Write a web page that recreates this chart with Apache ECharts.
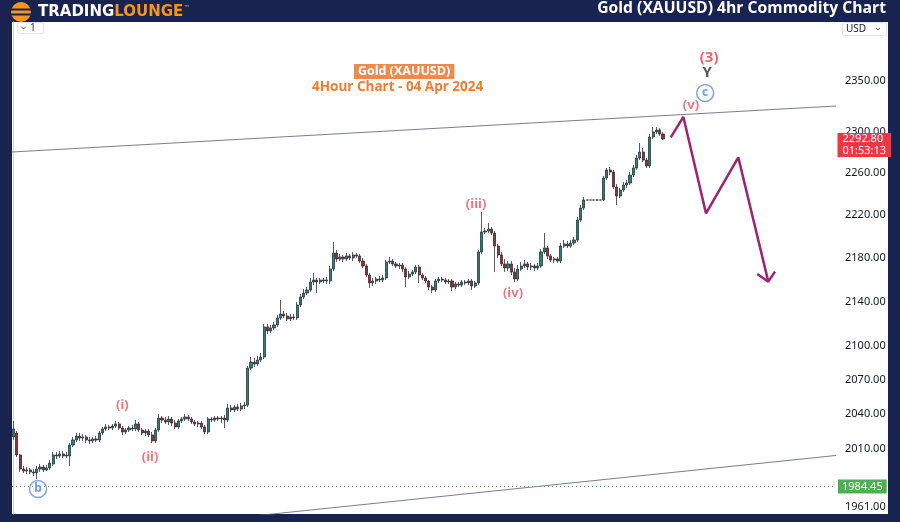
<!DOCTYPE html>
<html><head><meta charset="utf-8">
<script src="https://cdn.jsdelivr.net/npm/echarts@6/dist/echarts.min.js"></script>
<style>html,body{margin:0;padding:0;background:#18244f;}#c{width:900px;height:522px;}</style>
</head><body><div id="c"></div>
<script>
// ---- data (4h candles, prices in USD) ----
const openP = [
2020.4,2023.8,2005.0,1993.1,1991.4,1992.3,1990.6,1989.7,1993.1,1994.8,
1992.3,1994.0,1997.4,2005.0,2004.2,2005.9,2004.2,2004.2,2013.5,2017.8,
2021.2,2019.5,2020.4,2017.8,2017.0,2018.7,2017.8,2023.8,2027.3,2029.0,
2028.1,2029.8,2031.6,2028.1,2024.7,2026.4,2028.1,2027.3,2031.6,2026.4,
2023.8,2025.5,2022.1,2017.0,2026.4,2036.7,2035.0,2033.3,2035.9,2032.4,
2029.0,2034.2,2035.9,2037.6,2035.9,2033.3,2031.6,2032.4,2029.0,2024.7,
2035.9,2035.0,2036.7,2035.9,2036.7,2035.0,2045.4,2043.7,2046.3,2044.5,
2047.2,2048.0,2080.4,2085.7,2084.0,2087.5,2090.2,2117.0,2113.4,2116.1,
2118.8,2125.1,2128.7,2126.9,2124.2,2126.0,2125.1,2136.8,2144.1,2147.7,
2150.5,2157.8,2159.6,2157.8,2159.6,2158.7,2158.7,2169.7,2184.5,2179.0,
2180.8,2179.0,2181.8,2179.9,2182.7,2181.8,2177.1,2172.5,2164.2,2156.9,
2158.7,2160.5,2159.6,2161.5,2176.2,2177.1,2174.4,2172.5,2173.4,2169.7,
2162.4,2165.1,2167.0,2171.6,2164.2,2161.5,2158.7,2153.2,2150.5,2158.7,
2160.5,2159.6,2157.8,2158.7,2153.2,2155.9,2155.0,2157.8,2156.9,2158.7,
2154.1,2156.9,2185.5,2204.1,2205.0,2206.9,2203.1,2191.0,2182.7,2174.4,
2170.7,2174.4,2167.0,2160.5,2169.7,2172.5,2174.4,2171.6,2172.5,2170.7,
2172.5,2185.5,2189.2,2181.8,2178.0,2179.0,2177.1,2191.0,2192.9,2191.0,
2193.8,2196.6,2215.3,2226.6,2234.2,2234.2,2234.2,2234.2,2234.2,2234.2,
2255.2,2262.9,2260.9,2246.6,2238.0,2243.7,2248.5,2250.4,2258.0,2264.8,
2274.4,2280.2,2272.5,2266.7,2294.8,2299.7,2301.6,2297.7
];
const closeP = [
2027.3,2005.0,1993.1,1991.4,1992.3,1990.6,1989.7,1993.1,1994.8,1992.3,
1994.0,1998.2,2005.0,2004.2,2005.9,2004.2,2005.0,2013.5,2017.8,2021.2,
2019.5,2020.4,2017.8,2017.0,2018.7,2017.8,2023.8,2027.3,2029.0,2028.1,
2029.8,2031.6,2028.1,2024.7,2026.4,2028.1,2027.3,2031.6,2026.4,2023.8,
2025.5,2022.1,2017.0,2026.4,2036.7,2035.0,2033.3,2035.9,2032.4,2029.0,
2034.2,2035.9,2037.6,2035.9,2033.3,2031.6,2032.4,2029.0,2024.7,2035.9,
2035.0,2036.7,2035.9,2036.7,2035.0,2045.4,2043.7,2046.3,2044.5,2047.2,
2048.0,2080.4,2085.7,2084.0,2087.5,2090.2,2117.0,2113.4,2116.1,2118.8,
2125.1,2128.7,2126.9,2124.2,2126.0,2125.1,2136.8,2144.1,2147.7,2150.5,
2157.8,2159.6,2157.8,2159.6,2158.7,2159.6,2169.7,2184.5,2179.0,2180.8,
2179.0,2181.8,2179.9,2182.7,2181.8,2177.1,2172.5,2164.2,2156.9,2158.7,
2160.5,2159.6,2161.5,2176.2,2177.1,2174.4,2172.5,2173.4,2169.7,2162.4,
2165.1,2167.0,2171.6,2164.2,2161.5,2158.7,2153.2,2150.5,2158.7,2160.5,
2159.6,2157.8,2158.7,2153.2,2155.9,2155.0,2157.8,2156.9,2158.7,2154.1,
2156.9,2185.5,2204.1,2205.0,2206.9,2203.1,2191.0,2182.7,2174.4,2170.7,
2174.4,2167.0,2160.5,2169.7,2172.5,2174.4,2171.6,2172.5,2170.7,2172.5,
2185.5,2189.2,2181.8,2178.0,2179.0,2177.1,2191.0,2192.9,2191.0,2193.8,
2196.6,2215.3,2226.6,2234.2,2234.2,2234.2,2234.2,2234.2,2234.2,2255.2,
2262.9,2260.9,2246.6,2238.0,2243.7,2248.5,2250.4,2258.0,2264.8,2274.4,
2280.2,2272.5,2266.7,2294.8,2299.7,2301.6,2297.7,2292.8
];
const lowP = [
2017.8,2003.3,1990.6,1989.7,1988.9,1988.9,1987.2,1984.45,1990.6,1990.6,
1991.4,1992.3,1995.7,2001.6,2002.5,2002.5,2002.5,1995.7,2011.8,2016.1,
2017.0,2017.0,2015.2,2014.4,2015.2,2016.1,2016.1,2022.1,2025.5,2026.4,
2026.4,2028.1,2026.4,2022.1,2023.0,2024.7,2025.5,2025.5,2024.7,2022.1,
2021.2,2020.4,2015.2,2015.2,2024.7,2032.4,2031.6,2030.7,2029.8,2027.3,
2027.3,2032.4,2034.2,2034.2,2031.6,2029.8,2029.0,2027.3,2023.0,2023.0,
2033.3,2033.3,2034.2,2032.4,2028.1,2033.3,2041.9,2041.9,2042.8,2042.8,
2044.5,2046.3,2078.7,2081.3,2082.2,2085.7,2088.4,2110.7,2111.6,2114.3,
2117.0,2123.3,2125.1,2122.4,2122.4,2123.3,2123.3,2135.0,2142.3,2145.9,
2148.7,2155.0,2147.7,2155.9,2156.9,2155.9,2155.9,2167.9,2176.2,2177.1,
2176.2,2177.1,2178.0,2177.1,2179.9,2175.3,2170.7,2162.4,2152.3,2154.1,
2155.9,2157.8,2157.8,2159.6,2174.4,2172.5,2170.7,2169.7,2167.0,2153.2,
2160.5,2163.3,2165.1,2156.9,2159.6,2156.9,2150.5,2147.7,2148.7,2156.9,
2157.8,2155.9,2155.9,2149.6,2151.4,2153.2,2153.2,2155.0,2155.0,2150.5,
2152.3,2155.0,2183.6,2202.2,2203.1,2201.3,2167.0,2179.9,2172.5,2167.0,
2167.9,2164.2,2157.8,2158.7,2167.9,2170.7,2168.8,2168.8,2167.9,2168.8,
2170.7,2183.6,2179.0,2176.2,2175.3,2175.3,2175.3,2189.2,2189.2,2189.2,
2192.0,2194.8,2213.5,2224.8,2234.2,2234.2,2234.2,2234.2,2234.2,2233.3,
2253.3,2258.0,2244.7,2229.5,2236.1,2241.8,2245.6,2248.5,2256.1,2262.9,
2272.5,2270.6,2264.8,2264.8,2292.8,2297.7,2295.8,2291.9
];
const highP = [
2034.2,2025.5,2005.9,1995.7,1994.8,1994.0,1993.1,1995.7,1997.4,1996.5,
1996.5,2000.8,2007.6,2007.6,2008.4,2008.4,2007.6,2015.2,2020.4,2023.8,
2023.8,2023.0,2022.1,2020.4,2020.4,2021.2,2025.5,2029.0,2031.6,2030.7,
2031.6,2034.2,2033.3,2029.8,2028.1,2029.8,2030.7,2035.0,2033.3,2028.1,
2027.3,2027.3,2024.7,2028.1,2040.2,2038.5,2037.6,2038.5,2037.6,2035.0,
2035.9,2037.6,2040.2,2039.3,2037.6,2035.0,2034.2,2034.2,2030.7,2037.6,
2037.6,2038.5,2038.5,2038.5,2039.3,2048.9,2048.0,2048.0,2048.9,2049.8,
2050.6,2082.2,2090.2,2089.3,2091.1,2093.7,2119.7,2119.7,2118.8,2121.5,
2127.8,2141.4,2131.4,2129.6,2128.7,2128.7,2139.6,2146.8,2151.4,2153.2,
2161.5,2166.1,2161.5,2161.5,2161.5,2162.4,2172.5,2194.8,2187.3,2183.6,
2182.7,2184.5,2183.6,2185.5,2184.5,2183.6,2179.9,2174.4,2166.1,2161.5,
2162.4,2163.3,2164.2,2178.0,2180.8,2179.0,2176.2,2175.3,2175.3,2171.6,
2167.9,2168.8,2173.4,2173.4,2166.1,2163.3,2159.6,2155.0,2160.5,2162.4,
2162.4,2161.5,2160.5,2160.5,2157.8,2157.8,2159.6,2159.6,2160.5,2160.5,
2158.7,2187.3,2222.9,2207.8,2212.5,2208.8,2205.0,2192.9,2185.5,2179.0,
2177.1,2177.1,2170.7,2173.4,2176.2,2178.0,2176.2,2175.3,2174.4,2175.3,
2188.2,2203.1,2191.0,2183.6,2180.8,2180.8,2193.8,2196.6,2195.7,2196.6,
2199.4,2218.2,2229.5,2237.0,2234.2,2234.2,2234.2,2234.2,2234.2,2257.1,
2264.8,2265.7,2262.9,2249.5,2245.6,2251.4,2253.3,2260.9,2267.7,2277.3,
2289.0,2284.1,2274.4,2297.7,2304.5,2304.5,2303.5,2299.7
];

const yTicks = [1961, 2010, 2040, 2070, 2100, 2140, 2180, 2220, 2260, 2300, 2350];
const supportLevel = 1984.45;
const lastPrice = 2292.80;
const countdown = '01:53:13';

// channel lines (bar index, price)
const upperLineX = [-0.5, 249.5];
const upperLineP = [2280.2, 2325.2];
const lowerLineX = [-0.5, 249.5];
const lowerLineP = [1933.1, 2004.6];

// projected path
const pathX = [199.35, 203.2, 210.06, 219.86, 228.96];
const pathP = [2294.5, 2314.4, 2221.6, 2275.0, 2158.1];
const arrowX = [225.6, 228.96, 231.0];
const arrowP = [2165.1, 2158.1, 2167.3];

// wave labels
const waveText = ['(i)', '(ii)', '(iii)', '(iv)', '(v)'];
const waveX = [33, 41.4, 140.3, 151.5, 205.5];
const waveP = [2048.0, 2003.3, 2230.4, 2147.7, 2326.2];
const circText = ['b', 'c'];
const circX = [7.4, 209.8];
const circP = [1976.3, 2338.1];
const degText = ['(3)'];
const degX = [211];
const degP = [2373.1];
const yText = ['Y'];
const yX = [210.4];
const yP = [2358.0];

// ---- chart ----
const L = Math.log;
const candles = openP.map((o, i) => [i, L(o), L(closeP[i]), L(lowP[i]), L(highP[i])]);
const pts = (xs, ps) => xs.map((x, i) => [x, L(ps[i])]);
const NAVY = '#18244f';
const X_MAX = 249.5;

const chart = echarts.init(document.getElementById('c'), null, {renderer: 'canvas'});
chart.setOption({
  backgroundColor: NAVY,
  animation: false,
  title: [
    {text: 'Gold (XAUUSD) 4hr Commodity Chart', right: 14, top: 1, padding: 0,
     textStyle: {color: '#ffffff', fontSize: 15.7, fontWeight: 'bold', fontFamily: 'Open Sans'}},
    {text: 'Gold (XAUUSD)', left: 354, top: 64, backgroundColor: '#ef8a4c', padding: [1, 4, 1, 4],
     textStyle: {color: '#ffffff', fontSize: 12.5, fontWeight: 'bold', fontFamily: 'Open Sans'}},
    {text: '4Hour Chart - 04 Apr 2024', left: 312, top: 80, padding: 0,
     textStyle: {color: '#f07c2f', fontSize: 13.5, fontWeight: 'bold', fontFamily: 'Open Sans'}}
  ],
  grid: {left: 12, right: 64, top: 22, bottom: 8},
  xAxis: {type: 'value', min: -0.5, max: X_MAX, show: false},
  yAxis: {
    type: 'value', position: 'right', min: L(1955.4), max: L(2409.6), z: -1,
    axisLine: {show: true, lineStyle: {color: '#d1d4dc', width: 1}},
    axisTick: {show: false},
    splitLine: {show: false},
    axisLabel: {
      customValues: yTicks.map(L),
      formatter: v => Math.exp(v).toFixed(2),
      color: '#131722', fontSize: 11, margin: 9, fontFamily: 'Noto Sans'
    }
  },
  graphic: [
    {type: 'rect', z: -10, shape: {x: 12, y: 22, width: 876, height: 492}, style: {fill: '#ffffff'}},
    // logo
    {type: 'circle', z: 10, shape: {cx: 21, cy: 12, r: 10}, style: {fill: '#f7941d'}},
    {type: 'rect', z: 11, shape: {x: 11, y: 8.5, width: 20, height: 2}, style: {fill: NAVY}},
    {type: 'rect', z: 11, shape: {x: 11, y: 13.5, width: 20, height: 2}, style: {fill: NAVY}},
    {type: 'text', z: 10, x: 38, y: 12, style: {
      text: '{a|TRADING}{b|LOUNGE}{c|™}', verticalAlign: 'middle',
      rich: {
        a: {fill: '#ffffff', fontSize: 15, fontWeight: 'bold', fontFamily: 'DejaVu Sans'},
        b: {fill: '#f7941d', fontSize: 15, fontWeight: 'bold', fontFamily: 'DejaVu Sans'},
        c: {fill: '#f7941d', fontSize: 7, fontFamily: 'DejaVu Sans', verticalAlign: 'top'}
      }}},
    // small widgets
    {type: 'rect', z: 5, shape: {x: 17.5, y: 22.5, width: 26, height: 11, r: 2}, style: {fill: '#ffffff', stroke: '#e0e3eb', lineWidth: 1}},
    {type: 'polyline', z: 6, shape: {points: [[21, 26.5], [23.5, 29], [26, 26.5]]}, style: {stroke: '#555', lineWidth: 1, fill: null}},
    {type: 'text', z: 6, x: 30, y: 28, style: {text: '1', fontSize: 10, fill: '#333', verticalAlign: 'middle', fontFamily: 'Noto Sans'}},
    {type: 'rect', z: 5, shape: {x: 842.5, y: 22.5, width: 44, height: 13, r: 2}, style: {fill: '#ffffff', stroke: '#e0e3eb', lineWidth: 1}},
    {type: 'text', z: 6, x: 846, y: 29, style: {text: 'USD', fontSize: 10, fill: '#131722', verticalAlign: 'middle', fontFamily: 'Noto Sans'}},
    {type: 'polyline', z: 6, shape: {points: [[876, 28], [878, 30], [880, 28]]}, style: {stroke: '#555', lineWidth: 1, fill: null}}
  ],
  series: [
    {
      type: 'candlestick', name: 'XAUUSD', data: candles, barWidth: 2.6,
      itemStyle: {color: '#1f8a70', color0: '#b3202e', borderColor: '#2f3238', borderColor0: '#2f3238', borderWidth: 0.8},
      markLine: {
        silent: true, symbol: ['none', 'none'], animation: false,
        data: [
          {yAxis: L(supportLevel),
           lineStyle: {color: '#4caf50', type: [1, 3], width: 1},
           label: {show: true, position: 'end', distance: 2, formatter: () => supportLevel.toFixed(2),
                   backgroundColor: '#4caf50', color: '#ffffff', fontSize: 11, padding: [2, 4, 1, 4], fontFamily: 'Noto Sans'}}
        ]
      },
      markPoint: {
        silent: true, animation: false, z: 30, zlevel: 1,
        data: [{coord: [X_MAX, L(lastPrice)], symbol: 'circle', symbolSize: 1,
                itemStyle: {color: 'rgba(0,0,0,0)'},
                label: {show: true, position: 'right', distance: 1, offset: [0, 6],
                        formatter: lastPrice.toFixed(2) + '\n' + countdown,
                        backgroundColor: '#f23645', color: '#ffffff', fontSize: 11, lineHeight: 12,
                        padding: [0, 5, 0, 5], fontFamily: 'Noto Sans'}}]
      }
    },
    {type: 'line', data: pts(upperLineX, upperLineP), symbol: 'none', silent: true, lineStyle: {color: '#7b7e88', width: 1}},
    {type: 'line', data: pts(lowerLineX, lowerLineP), symbol: 'none', silent: true, lineStyle: {color: '#7b7e88', width: 1}},
    {type: 'line', data: pts(pathX, pathP), symbol: 'none', silent: true, lineStyle: {color: '#9e2470', width: 2.5}},
    {type: 'line', data: pts(arrowX, arrowP), symbol: 'none', silent: true, lineStyle: {color: '#9e2470', width: 2.5}},
    {type: 'scatter', symbolSize: 0, silent: true,
     data: waveText.map((t, i) => ({name: t, value: [waveX[i], L(waveP[i])]})),
     label: {show: true, position: 'inside', formatter: p => p.name, color: '#f0505d', fontSize: 13, fontWeight: 'bold', fontFamily: 'Noto Sans'}},
    {type: 'scatter', symbolSize: 0, silent: true,
     data: degText.map((t, i) => ({name: t, value: [degX[i], L(degP[i])]})),
     label: {show: true, position: 'inside', formatter: p => p.name, color: '#f23645', fontSize: 15, fontWeight: 'bold', fontFamily: 'Noto Sans'}},
    {type: 'scatter', symbolSize: 0, silent: true,
     data: yText.map((t, i) => ({name: t, value: [yX[i], L(yP[i])]})),
     label: {show: true, position: 'inside', formatter: p => p.name, color: '#2a2e39', fontSize: 15, fontWeight: 'bold', fontFamily: 'Noto Sans'}},
    {type: 'scatter', symbol: 'circle', symbolSize: 17, silent: true,
     itemStyle: {color: '#ffffff', borderColor: '#5d8df0', borderWidth: 1.5},
     data: circText.map((t, i) => ({name: t, value: [circX[i], L(circP[i])]})),
     label: {show: true, position: 'inside', formatter: p => p.name, color: '#4f80e8', fontSize: 12, fontWeight: 'bold', fontFamily: 'Noto Sans'}}
  ]
});
</script>
</body></html>
